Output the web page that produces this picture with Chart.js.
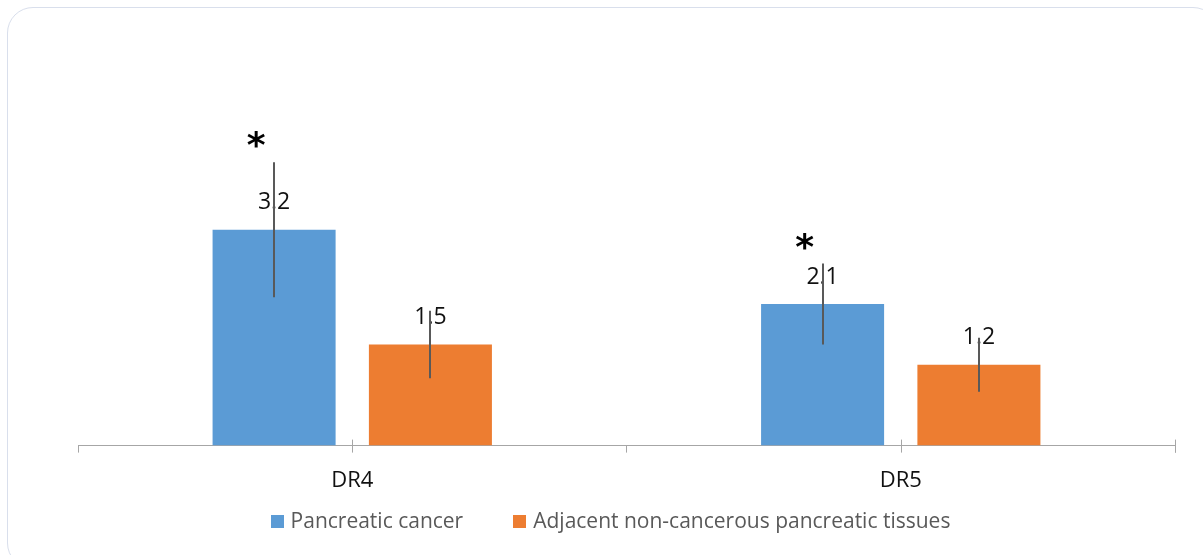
<!DOCTYPE html>
<html>
<head>
<meta charset="utf-8">
<title>DR4 / DR5 expression</title>
<script src="https://cdn.jsdelivr.net/npm/chart.js@4.4.1/dist/chart.umd.min.js"></script>
<style>
    html, body { margin: 0; padding: 0; width: 1203px; height: 555px; overflow: hidden; background: #fff; }
    #frame {
        position: absolute; left: 7px; top: 7px; width: 1212px; height: 562px;
        border: 1.5px solid #d9dfec; border-radius: 26px; box-sizing: border-box;
    }
    #wrap { position: absolute; left: 0; top: 0; width: 1203px; height: 555px; }
</style>
</head>
<body>
<div id="frame"></div>
<div id="wrap"><canvas id="drChart" width="1203" height="555"></canvas></div>
<script>
(function () {
    'use strict';

    var categories = ['DR4', 'DR5'];
    var cancerValues = [3.2, 2.1];
    var cancerErrors = [1.0, 0.6];
    var adjacentValues = [1.5, 1.2];
    var adjacentErrors = [0.5, 0.4];
    var cancerSignificant = [true, true];

    var axisColor = '#a6a6a6';
    var fontFamily = '"Open Sans", "Noto Sans", sans-serif';

    // centre ticks + right end tick (Excel style crossing marks)
    var crossTicks = {
        id: 'crossTicks',
        afterDraw: function (chart) {
            var ctx = chart.ctx, x = chart.scales.x, b = chart.chartArea.bottom;
            ctx.save();
            ctx.strokeStyle = axisColor;
            ctx.lineWidth = 1;
            ctx.beginPath();
            categories.forEach(function (c, i) {
                var px = Math.round(x.getPixelForValue(i)) + 0.5;
                ctx.moveTo(px, b - 6);
                ctx.lineTo(px, b + 7);
            });
            var r = Math.round(chart.chartArea.right) + 0.5;
            ctx.moveTo(r, b - 6);
            ctx.lineTo(r, b + 7);
            ctx.stroke();
            ctx.restore();
        }
    };

    // value labels, error bars and significance stars
    var barExtras = {
        id: 'barExtras',
        afterDatasetsDraw: function (chart) {
            var ctx = chart.ctx, y = chart.scales.y;
            ctx.save();
            chart.data.datasets.forEach(function (ds, di) {
                var meta = chart.getDatasetMeta(di);
                meta.data.forEach(function (bar, i) {
                    ctx.font = '23px ' + fontFamily;
                    ctx.fillStyle = '#111';
                    ctx.textAlign = 'center';
                    ctx.textBaseline = 'middle';
                    ctx.fillText(String(ds.data[i]), bar.x, bar.y - 27);
                });
            });
            chart.data.datasets.forEach(function (ds, di) {
                var meta = chart.getDatasetMeta(di);
                meta.data.forEach(function (bar, i) {
                    var top = y.getPixelForValue(ds.data[i] + ds.errors[i]);
                    var bottom = y.getPixelForValue(ds.data[i] - ds.errors[i]);
                    ctx.strokeStyle = '#595959';
                    ctx.lineWidth = 2;
                    ctx.beginPath();
                    ctx.moveTo(Math.round(bar.x), top);
                    ctx.lineTo(Math.round(bar.x), bottom);
                    ctx.stroke();
                    if (ds.stars && ds.stars[i]) {
                        ctx.font = 'bold 36px "DejaVu Sans", sans-serif';
                        ctx.fillStyle = '#000';
                        ctx.textAlign = 'center';
                        ctx.textBaseline = 'alphabetic';
                        ctx.fillText('*', bar.x - 18, top - 25 + 20);
                    }
                });
            });
            ctx.restore();
        }
    };

    var bottomLegend = {
        id: 'bottomLegend',
        afterDraw: function (chart) {
            var ctx = chart.ctx, area = chart.chartArea;
            var box = 13, gap = 7, spacing = 50;
            ctx.save();
            ctx.font = '21px ' + fontFamily;
            var items = chart.data.datasets.map(function (ds) {
                return { text: ds.label, color: ds.backgroundColor, w: ctx.measureText(ds.label).width };
            });
            var total = 0;
            items.forEach(function (it, i) {
                total += box + gap + it.w + (i < items.length - 1 ? spacing : 0);
            });
            var cx = (area.left + area.right) / 2 - 16;
            var x = cx - total / 2;
            var cy = area.bottom + 76;
            items.forEach(function (it) {
                ctx.fillStyle = it.color;
                ctx.fillRect(Math.round(x), Math.round(cy - box / 2), box, box);
                ctx.fillStyle = '#595959';
                ctx.textAlign = 'left';
                ctx.textBaseline = 'middle';
                ctx.fillText(it.text, x + box + gap, cy);
                x += box + gap + it.w + spacing;
            });
            ctx.restore();
        }
    };

    new Chart(document.getElementById('drChart').getContext('2d'), {
        type: 'bar',
        data: {
            labels: categories,
            datasets: [{
                label: 'Pancreatic cancer',
                data: cancerValues,
                errors: cancerErrors,
                stars: cancerSignificant,
                backgroundColor: '#5b9bd5',
                borderWidth: 0
            }, {
                label: 'Adjacent non-cancerous pancreatic tissues',
                data: adjacentValues,
                errors: adjacentErrors,
                backgroundColor: '#ed7d31',
                borderWidth: 0
            }]
        },
        options: {
            responsive: false,
            animation: false,
            devicePixelRatio: 1,
            categoryPercentage: 0.57,
            barPercentage: 0.787,
            layout: { padding: { left: 78, right: 28, top: 14, bottom: 46 } },
            plugins: {
                legend: { display: false },
                tooltip: { enabled: false }
            },
            scales: {
                x: {
                    border: { display: true, color: axisColor, width: 1 },
                    grid: { display: true, offset: true, drawOnChartArea: false, drawTicks: true, tickLength: 7, color: axisColor },
                    ticks: { color: '#111', padding: 15, font: { family: fontFamily, size: 22 } }
                },
                y: {
                    display: false,
                    min: 0,
                    max: 6.4
                }
            }
        },
        plugins: [crossTicks, barExtras, bottomLegend]
    });
}());
</script>
</body>
</html>
